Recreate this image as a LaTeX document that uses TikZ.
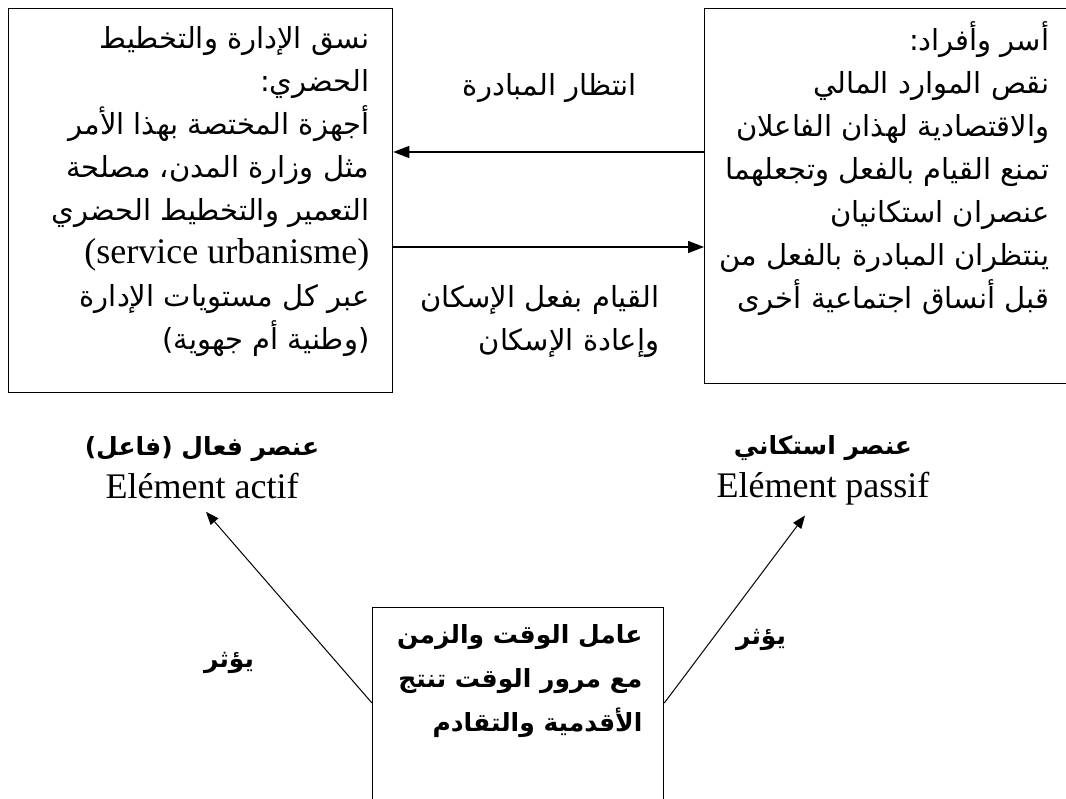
\documentclass[tikz,border=0pt]{standalone}
\usepackage{fontspec}
\setmainfont{Liberation Serif}
\newfontfamily\arabicfont[Script=Arabic]{DejaVu Sans}
\usetikzlibrary{arrows.meta}
\TeXXeTstate=1
\newcommand{\artext}[1]{\beginR#1\endR}

\begin{document}
\begin{tikzpicture}[x=1pt, y=-1pt, line width=1.3pt, every node/.style={font=\fontsize{36}{43}\selectfont},
	>={Triangle[length=16pt, width=12pt]},
	box/.style={draw, rectangle, inner sep=0pt, anchor=north west},
	artxt/.style={align=right, inner sep=0pt, font=\arabicfont\fontsize{29}{43}\selectfont},
	boldtxt/.style={artxt, font=\arabicfont\bfseries\fontsize{25}{44}\selectfont},
	thin arrow/.style={->, line width=1pt, >={Triangle[length=13pt, width=10pt]}}]
	\useasboundingbox (0,0) rectangle (1066,799);
	\clip (0,0) rectangle (1066,799);
	\node[box, minimum width=384pt, minimum height=384pt] (admin) at (8,8) {};
	\node[box, minimum width=380pt, minimum height=375pt] (family) at (704,8) {};
	\node[box, minimum width=291pt, minimum height=230pt] (time) at (372,607) {};
	\node[artxt, anchor=north east] (admintxt) at (370,26) {\artext{نسق الإدارة والتخطيط}\\ \artext{الحضري:}\\ \artext{أجهزة المختصة بهذا الأمر}\\ \artext{مثل وزارة المدن، مصلحة}\\ \artext{التعمير والتخطيط الحضري}\\ {\rmfamily\fontsize{36}{43}\selectfont (service urbanisme)}\\ \artext{عبر كل مستويات الإدارة}\\ \artext{(وطنية أم جهوية)}};
	\node[artxt, anchor=north east] (familytxt) at (1050,21) {\artext{أسر وأفراد:}\\ \artext{نقص الموارد المالي}\\ \artext{والاقتصادية لهذان الفاعلان}\\ \artext{تمنع القيام بالفعل وتجعلهما}\\ \artext{عنصران استكانيان}\\ \artext{ينتظران المبادرة بالفعل من}\\ \artext{قبل أنساق اجتماعية أخرى}};
	\draw[->] (family.west |- 0,152) -- (admin.east |- 0,152);
	\draw[->] (admin.east |- 0,247) -- (family.west |- 0,247);
	\node[artxt] (waitlbl) at (550,88) {\artext{انتظار المبادرة}};
	\node[artxt, anchor=north east] (houselbl) at (660,285) {\artext{القيام بفعل الإسكان}\\ \artext{وإعادة الإسكان}};
	\node[align=center, inner sep=0pt] (actif) at (202,468) {{\arabicfont\bfseries\fontsize{25}{43}\selectfont\artext{عنصر فعال (فاعل)}}\\ Elément actif};
	\node[align=center, inner sep=0pt] (passif) at (823,470) {{\arabicfont\bfseries\fontsize{25}{43}\selectfont\artext{عنصر استكاني}}\\ Elément passif};
	\node[boldtxt, anchor=north east] (timetxt) at (643,624) {\artext{عامل الوقت والزمن}\\ \artext{مع مرور الوقت تنتج}\\ \artext{الأقدمية والتقادم}};
	\node[boldtxt] (affleft) at (229,663) {\artext{يؤثر}};
	\node[boldtxt] (affright) at (761,640) {\artext{يؤثر}};
	\draw[thin arrow] ([yshift=-96pt]time.north west) -- ([xshift=4pt, yshift=-12pt]actif.south);
	\draw[thin arrow] ([yshift=-96pt]time.north east) -- ([xshift=-18pt, yshift=-10pt]passif.south);
\end{tikzpicture}
\end{document}
